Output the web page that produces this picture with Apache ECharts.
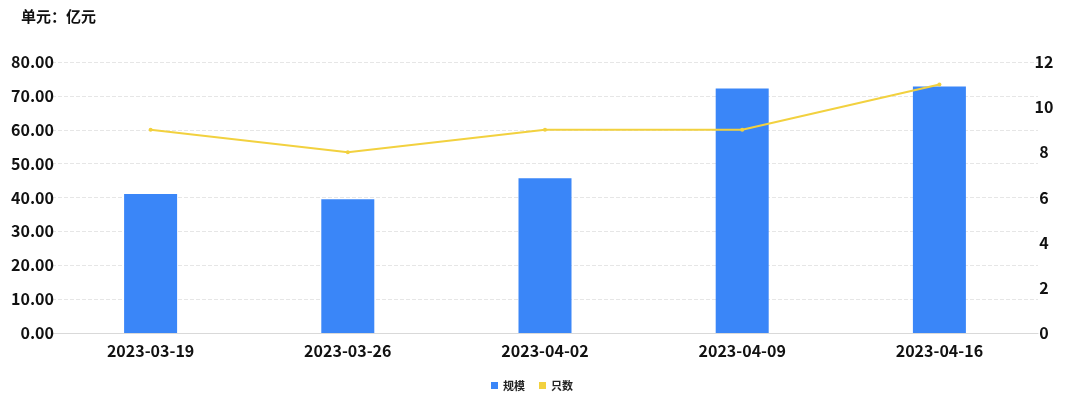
<!DOCTYPE html>
<html><head><meta charset="utf-8">
<script src="https://cdn.jsdelivr.net/npm/echarts@6/dist/echarts.min.js"></script>
<style>html,body{margin:0;padding:0;background:#fff}#c{width:1080px;height:395px}</style>
</head><body><div id="c"></div>
<script>
var categories = ['2023-03-19','2023-03-26','2023-04-02','2023-04-09','2023-04-16'];
var scaleValues = [41.0, 39.5, 45.7, 72.2, 72.8];
var countValues = [9, 8, 9, 9, 11];
var seriesNames = ['规模', '只数'];
var unitText = '单元：亿元';

var chart = echarts.init(document.getElementById('c'));
var font = '"Noto Sans CJK SC", "Noto Sans", sans-serif';
chart.setOption({
  animation: false,
  textStyle: {fontFamily: font},
  title: {text: unitText, left: 16, top: 4, textStyle: {fontSize: 15, fontWeight: 'bold', color: '#111', fontFamily: font}},
  legend: {bottom: -1, left: 486, itemWidth: 7, itemHeight: 7, itemGap: 14,
    icon: 'rect',
    textStyle: {fontSize: 11, fontWeight: 'bold', color: '#222', fontFamily: font},
    data: seriesNames},
  grid: {left: 52, right: 42, top: 62, bottom: 62, containLabel: false},
  xAxis: {type: 'category', data: categories,
    axisLine: {lineStyle: {color: '#d9d9d9'}}, axisTick: {show: false},
    axisLabel: {fontSize: 16, fontWeight: 'bold', color: '#111', margin: 10, fontFamily: font}},
  yAxis: [
    {type: 'value', min: 0, max: 80, interval: 10,
      axisLabel: {formatter: function(v){return v.toFixed(2);}, fontSize: 16, fontWeight: 'bold', color: '#111', margin: -2, fontFamily: font},
      axisLine: {show: false}, axisTick: {show: false},
      splitLine: {lineStyle: {type: 'dashed', color: '#e6e6e6'}}},
    {type: 'value', min: 0, max: 12, interval: 2,
      axisLabel: {fontSize: 16, fontWeight: 'bold', color: '#111', margin: 6, align: 'center', fontFamily: font},
      axisLine: {show: false}, axisTick: {show: false}, splitLine: {show: false}}
  ],
  series: [
    {name: seriesNames[0], type: 'bar', data: scaleValues, barWidth: 53, yAxisIndex: 0,
      itemStyle: {color: '#3a86f8'}},
    {name: seriesNames[1], type: 'line', data: countValues, yAxisIndex: 1,
      symbol: 'circle', symbolSize: 4, lineStyle: {width: 2, color: '#f2d13f'},
      itemStyle: {color: '#f2d13f'}}
  ]
});
</script></body></html>
